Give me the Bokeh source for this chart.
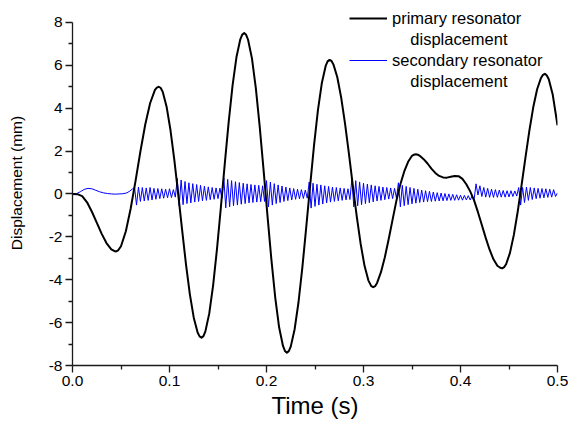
from bokeh.plotting import figure
from bokeh.models import Range1d, FixedTicker, NumeralTickFormatter, Legend, LegendItem
from bokeh.embed import file_html
from bokeh.resources import INLINE

# ---------------- data ----------------
# primary resonator displacement (black)
black_t = [
    0.000, 0.005, 0.010, 0.015, 0.020, 0.025, 0.030, 0.035, 0.040, 0.043, 0.045, 0.047,
    0.050, 0.055, 0.060, 0.065, 0.070, 0.075, 0.080, 0.085, 0.087, 0.089, 0.091, 0.093,
    0.097, 0.101, 0.105, 0.109, 0.113, 0.117, 0.121, 0.125, 0.129, 0.131, 0.133, 0.135,
    0.137, 0.141, 0.145, 0.149, 0.153, 0.157, 0.161, 0.165, 0.169, 0.173, 0.175,
    0.177, 0.179, 0.181, 0.185, 0.189, 0.193, 0.197, 0.201, 0.205, 0.209, 0.213,
    0.217, 0.219, 0.221, 0.223, 0.225, 0.229, 0.233, 0.237, 0.241, 0.245, 0.249, 0.253,
    0.257, 0.261, 0.263, 0.265, 0.267, 0.269, 0.273, 0.277, 0.281, 0.285, 0.289, 0.293,
    0.297, 0.301, 0.305, 0.308, 0.310, 0.312, 0.314, 0.318, 0.322, 0.326, 0.330, 0.334,
    0.338, 0.342, 0.346, 0.350, 0.352, 0.354, 0.356, 0.358, 0.362, 0.366, 0.370, 0.374,
    0.378, 0.382, 0.386, 0.390, 0.394, 0.398, 0.402, 0.406, 0.410, 0.414,
    0.418, 0.422, 0.426, 0.430, 0.434, 0.438, 0.441, 0.443, 0.445, 0.447, 0.451, 0.455,
    0.459, 0.463, 0.467, 0.471, 0.475, 0.479, 0.483, 0.485, 0.487, 0.489, 0.491, 0.495,
    0.500,
]
black_v = [
    0.00, -0.01, -0.10, -0.39, -0.83, -1.34, -1.85, -2.29, -2.58, -2.66, -2.68, -2.63,
    -2.44, -1.74, -0.68, 0.61, 1.98, 3.24, 4.23, 4.85, 4.96, 5.00, 4.94, 4.76,
    4.07, 2.98, 1.58, -0.02, -1.68, -3.28, -4.68, -5.77, -6.46, -6.64, -6.70, -6.63,
    -6.41, -5.57, -4.25, -2.55, -0.61, 1.41, 3.35, 5.05, 6.37, 7.21, 7.43,
    7.50, 7.42, 7.19, 6.32, 4.93, 3.14, 1.11, -1.01, -3.04, -4.83, -6.22,
    -7.09, -7.32, -7.40, -7.33, -7.12, -6.31, -5.05, -3.41, -1.54, 0.39, 2.26, 3.90,
    5.16, 5.97, 6.18, 6.25, 6.20, 6.04, 5.44, 4.49, 3.27, 1.87, 0.39, -1.04,
    -2.31, -3.34, -4.03, -4.30, -4.35, -4.30, -4.15, -3.65, -2.95, -2.10, -1.20, -0.30,
    0.45, 1.05, 1.50, 1.78, 1.83, 1.85, 1.83, 1.78, 1.62, 1.42, 1.18, 0.98,
    0.84, 0.77, 0.76, 0.80, 0.84, 0.83, 0.70, 0.45, 0.12, -0.30,
    -0.85, -1.45, -2.05, -2.60, -3.05, -3.35, -3.44, -3.47, -3.41, -3.28, -2.75, -1.91,
    -0.82, 0.42, 1.71, 2.95, 4.04, 4.88, 5.41, 5.55, 5.60, 5.52, 5.35, 4.65,
    3.20,
]

# secondary resonator displacement (blue), one row per stretch between impacts
blue_t = [
    0.000, 0.004, 0.008, 0.012, 0.016, 0.020, 0.024, 0.028, 0.032, 0.036, 0.040, 0.044, 0.048, 0.052, 0.056, 0.059, 0.062,
    0.064, 0.066, 0.068, 0.070, 0.072, 0.074, 0.076, 0.078, 0.080, 0.082, 0.084, 0.086, 0.088, 0.090, 0.092, 0.094, 0.096, 0.098, 0.100, 0.102, 0.104, 0.106,
    0.108, 0.110, 0.112, 0.114, 0.116, 0.118, 0.120, 0.122, 0.124, 0.126, 0.128, 0.130, 0.132, 0.134, 0.136, 0.138, 0.140, 0.142, 0.144, 0.146, 0.148, 0.150, 0.152, 0.154,
    0.156, 0.158, 0.160, 0.162, 0.164, 0.166, 0.168, 0.170, 0.172, 0.174, 0.176, 0.178, 0.180, 0.182, 0.184, 0.186, 0.188, 0.190, 0.192, 0.194, 0.196, 0.198,
    0.200, 0.202, 0.204, 0.206, 0.208, 0.210, 0.212, 0.214, 0.216, 0.218, 0.220, 0.222, 0.224, 0.226, 0.228, 0.230, 0.232, 0.234, 0.236, 0.238, 0.240, 0.242,
    0.244, 0.246, 0.248, 0.250, 0.252, 0.254, 0.256, 0.258, 0.260, 0.262, 0.264, 0.266, 0.268, 0.270, 0.272, 0.274, 0.276, 0.278, 0.280, 0.282, 0.284, 0.286,
    0.288, 0.290, 0.292, 0.294, 0.296, 0.298, 0.300, 0.302, 0.304, 0.306, 0.308, 0.310, 0.312, 0.314, 0.316, 0.318, 0.320, 0.322, 0.324, 0.326, 0.328, 0.330, 0.332, 0.334,
    0.336, 0.338, 0.340, 0.342, 0.344, 0.346, 0.348, 0.350, 0.352, 0.354, 0.356, 0.358, 0.360, 0.362, 0.364, 0.366, 0.368, 0.370, 0.372, 0.374,
    0.376, 0.378, 0.380, 0.382, 0.384, 0.386, 0.388, 0.390, 0.392, 0.394, 0.396, 0.398, 0.400, 0.402, 0.404, 0.406, 0.408, 0.410, 0.412, 0.414,
    0.416, 0.418, 0.420, 0.422, 0.424, 0.426, 0.428, 0.430, 0.432, 0.434, 0.436, 0.438, 0.440, 0.442, 0.444, 0.446, 0.448, 0.450, 0.452, 0.454, 0.456, 0.458,
    0.460, 0.462, 0.464, 0.466, 0.468, 0.470, 0.472, 0.474, 0.476, 0.478, 0.480, 0.482, 0.484, 0.486, 0.488, 0.490, 0.492, 0.494, 0.496, 0.498, 0.500,
]
blue_v = [
    0.00, 0.01, 0.10, 0.21, 0.26, 0.24, 0.17, 0.10, 0.05, 0.02, 0.00, -0.01, 0.00, 0.01, 0.05, 0.13, 0.24,
    0.30, -0.52, 0.32, -0.35, 0.30, -0.33, 0.28, -0.30, 0.30, -0.28, 0.26, -0.25, 0.25, -0.22, 0.24, -0.20, 0.22, -0.18, 0.24, -0.17, 0.20, -0.15,
    0.72, -0.55, 0.65, -0.50, 0.58, -0.45, 0.52, -0.42, 0.48, -0.38, 0.44, -0.35, 0.40, -0.32, 0.36, -0.30, 0.33, -0.27, 0.30, -0.25, 0.28, -0.22, 0.27, -0.20,
    0.75, -0.65, 0.68, -0.60, 0.62, -0.55, 0.57, -0.52, 0.53, -0.48, 0.50, -0.45, 0.47, -0.42, 0.44, -0.40, 0.42, -0.38, 0.40, -0.36, 0.38, -0.35,
    0.62, -0.60, 0.55, -0.52, 0.48, -0.45, 0.42, -0.40, 0.37, -0.35, 0.32, -0.31, 0.28, -0.28, 0.25, -0.25, 0.22, -0.23, 0.20, -0.21, 0.18, -0.20,
    0.55, -0.66, 0.50, -0.58, 0.45, -0.52, 0.42, -0.47, 0.38, -0.42, 0.35, -0.38, 0.32, -0.35, 0.30, -0.32, 0.28, -0.30, 0.26, -0.28, 0.24, -0.26,
    0.68, -0.60, 0.62, -0.55, 0.56, -0.50, 0.50, -0.45, 0.46, -0.41, 0.42, -0.37, 0.38, -0.33, 0.35, -0.30, 0.32, -0.27, 0.30, -0.24, 0.28, -0.22, 0.26, -0.20,
    0.52, -0.60, 0.40, -0.55, 0.35, -0.50, 0.30, -0.46, 0.26, -0.43, 0.22, -0.40, 0.18, -0.38, 0.15, -0.36, 0.12, -0.35, 0.09, -0.34,
    0.06, -0.33, 0.04, -0.32, 0.02, -0.31, 0.00, -0.30, -0.02, -0.30, -0.04, -0.29, -0.06, -0.29, -0.07, -0.28, -0.08, -0.28, -0.09, -0.27,
    0.47, -0.05, 0.38, -0.12, 0.30, -0.15, 0.26, -0.16, 0.22, -0.16, 0.20, -0.16, 0.18, -0.15, 0.16, -0.15, 0.15, -0.14, 0.15, -0.12, 0.14, -0.10,
    0.30, -0.52, 0.30, -0.40, 0.32, -0.30, 0.30, -0.26, 0.28, -0.22, 0.26, -0.20, 0.25, -0.18, 0.24, -0.16, 0.22, -0.15, 0.20, -0.12, 0.05,
]

x_ticks = [0.0, 0.1, 0.2, 0.3, 0.4, 0.5]
x_minor = [0.05, 0.15, 0.25, 0.35, 0.45]
y_ticks = [-8, -6, -4, -2, 0, 2, 4, 6, 8]
y_minor = [-7, -5, -3, -1, 1, 3, 5, 7]

series_names = ["primary resonator", "displacement", "secondary resonator", "displacement"]

assert len(black_t) == len(black_v), (len(black_t), len(black_v))
assert len(blue_t) == len(blue_v), (len(blue_t), len(blue_v))

# ---------------- figure ----------------
FONT = "Liberation Sans"
Y_TOP = 9.02  # frame extends a little above the axis end so the legend fits

p = figure(width=568, height=421, output_backend="svg", toolbar_location=None,
           x_range=Range1d(0, 0.5), y_range=Range1d(-8, Y_TOP),
           min_border_left=72, min_border_right=11, min_border_top=0, min_border_bottom=0,
           x_axis_label="Time (s)", y_axis_label="Displacement (mm)")
p.outline_line_color = None
p.grid.visible = False
p.background_fill_color = "white"
p.border_fill_color = "white"

r_blue = p.line(blue_t, blue_v, line_color="#0000ff", line_width=1)
r_black = p.line(black_t, black_v, line_color="black", line_width=2, line_join="round")
r_none = p.line(x=[], y=[], line_alpha=0)

for ax in (p.xaxis[0], p.yaxis[0]):
    ax.axis_line_color = "#1a1a1a"
    ax.axis_line_width = 1.3
    ax.major_tick_line_color = "#1a1a1a"
    ax.major_tick_line_width = 1.3
    ax.minor_tick_line_color = "#1a1a1a"
    ax.minor_tick_line_width = 1.3
    ax.major_tick_in = 0
    ax.major_tick_out = 7
    ax.minor_tick_in = 0
    ax.minor_tick_out = 4
    ax.major_label_text_font = FONT
    ax.major_label_text_font_size = "15.5px"
    ax.major_label_text_color = "black"
    ax.axis_label_text_font = FONT
    ax.axis_label_text_font_style = "normal"
    ax.axis_label_text_color = "black"

p.xaxis.ticker = FixedTicker(ticks=x_ticks, minor_ticks=x_minor)
p.yaxis.ticker = FixedTicker(ticks=y_ticks, minor_ticks=y_minor)
p.xaxis.formatter = NumeralTickFormatter(format="0.0")
p.yaxis.formatter = NumeralTickFormatter(format="0")
p.xaxis.bounds = (0, 0.5)
p.yaxis.bounds = (-8, 8)
p.xaxis.major_label_standoff = 3
p.yaxis.major_label_standoff = 3
p.xaxis.axis_label_text_font_size = "24px"
p.yaxis.axis_label_text_font_size = "15.5px"
p.xaxis.axis_label_standoff = 3
p.yaxis.axis_label_standoff = 21

indent = "\u00a0" * 4
legend = Legend(items=[
    LegendItem(label=series_names[0], renderers=[r_black]),
    LegendItem(label=indent + series_names[1], renderers=[r_none]),
    LegendItem(label=series_names[2], renderers=[r_blue]),
    LegendItem(label=indent + series_names[3], renderers=[r_none]),
], location=(277, 274))
legend.border_line_color = None
legend.background_fill_alpha = 0
legend.padding = 0
legend.margin = 0
legend.spacing = 1
legend.glyph_width = 38
legend.glyph_height = 20
legend.label_height = 20
legend.label_standoff = 5
legend.label_text_font = FONT
legend.label_text_font_size = "16.5px"
legend.label_text_color = "black"
p.add_layout(legend)

open("out.html", "w").write(file_html(p, INLINE, title="Displacement"))
